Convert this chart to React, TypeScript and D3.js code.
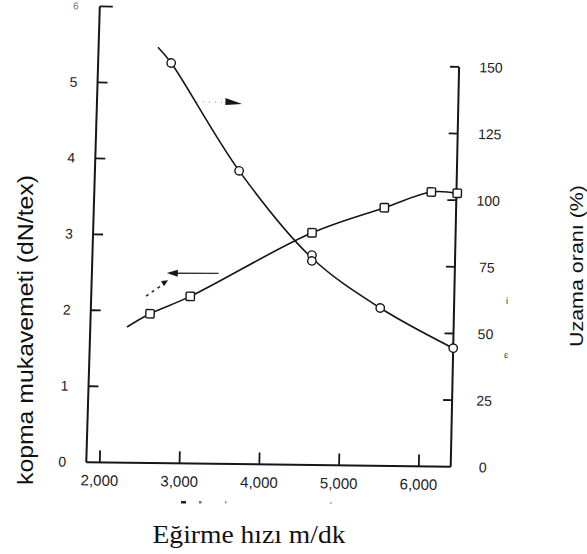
import React from "react";
import * as d3 from "d3";

// ---- data ----
const speedTicks = [2000, 3000, 4000, 5000, 6000];
const tenacityTicks = [0, 1, 2, 3, 4, 5, 6];
const elongationTicks = [0, 25, 50, 75, 100, 125, 150];

// tenacity (squares, left axis, dN/tex)
const tenacitySpeed = [2590, 3090, 4600, 5500, 6085, 6410];
const tenacityValues = [1.97, 2.21, 3.08, 3.43, 3.65, 3.64];
const tenacityCurveSpeed = [2305, 2590, 3090, 4600, 5500, 6085, 6410];
const tenacityCurveValues = [1.79, 1.97, 2.21, 3.08, 3.43, 3.65, 3.64];

// elongation (circles, right axis, %)
const elongationSpeed = [2790, 3670, 4605, 4605, 5475, 6400];
const elongationValues = [149.2, 109.3, 78.3, 76.1, 59.0, 44.5];
const elongationCurveSpeed = [2620, 2790, 3670, 4605, 5475, 6400];
const elongationCurveValues = [155, 149.2, 109.3, 77.2, 59.0, 44.5];

const W = 587;
const H = 554;

export default function App() {
  const x = d3.scaleLinear().domain([2000, 6000]).range([104, 423]);
  const yL = d3.scaleLinear().domain([0, 6]).range([466, 10]);
  const yR = d3.scaleLinear().domain([0, 150]).range([463, 63]);
  const xLeftAxis = d3.scaleLinear().domain([0, 6]).range([x(1830), x(1880)]);
  const xRight = x(6400);
  const yBase = d3.scaleLinear().domain([1830, 6400]).range([yL(0), yR(0)]);
  const fmt = d3.format(",");

  const ten = tenacityCurveSpeed.map((s, i) => [x(s), yL(tenacityCurveValues[i])] as [number, number]);
  const elo = elongationCurveSpeed.map((s, i) => [x(s), yR(elongationCurveValues[i])] as [number, number]);
  const line = d3.line().curve(d3.curveCatmullRom.alpha(0.5));

  const ink = "#161616";
  const sans = "'Liberation Sans', Arial, sans-serif";

  // annotation arrows (in data space)
  const arrTail = [x(3440), yL(2.52)];
  const arrTip = [x(2790), yL(2.51)];
  const dashA = [x(2535), yL(2.2)];
  const dashB = [x(2783), yL(2.39)];
  const dotA = [x(3124), yR(134.8)];
  const dotB = [x(3480), yR(134.8)];
  const triTip = x(3690);

  return (
    <svg width={W} height={H} style={{ position: "absolute", left: 0, top: 0, background: "#fff" }}>
      <rect width={W} height={H} fill="#fff" />
      <g transform="rotate(1.2 270 265)">
        {/* left axis */}
        <line x1={xLeftAxis(0)} y1={yL(0)} x2={xLeftAxis(6)} y2={yL(6)} stroke={ink} strokeWidth={2} />
        {tenacityTicks.map((t) => (
          <g key={"lt" + t}>
            {t > 0 && (
              <line x1={xLeftAxis(t)} x2={xLeftAxis(t) + (t === 6 ? 13 : 10)} y1={yL(t)} y2={yL(t)} stroke={ink} strokeWidth={1.8} />
            )}
            <text
              x={xLeftAxis(t) - 24}
              y={yL(t)}
              dy="0.35em"
              textAnchor="middle"
              fontFamily={sans}
              fontSize={t === 6 ? 10 : 14}
              fill={t === 6 ? "#777" : "#222"}
            >
              {t}
            </text>
          </g>
        ))}
        {/* right axis */}
        <line x1={xRight} y1={yR(0)} x2={xRight} y2={yR(150)} stroke={ink} strokeWidth={2} />
        {elongationTicks.map((t) => (
          <g key={"rt" + t}>
            {t > 0 && <line x1={xRight - 9} x2={xRight} y1={yR(t)} y2={yR(t)} stroke={ink} strokeWidth={1.8} />}
            <text x={xRight + 32} y={yR(t)} dy="0.35em" textAnchor="middle" fontFamily={sans} fontSize={14} fill="#222">
              {t}
            </text>
          </g>
        ))}
        {/* bottom axis */}
        <line x1={xLeftAxis(0)} y1={yBase(1830)} x2={xRight} y2={yBase(6400)} stroke={ink} strokeWidth={2} />
        {speedTicks.map((t) => (
          <g key={"bt" + t}>
            <line x1={x(t)} x2={x(t)} y1={yBase(t)} y2={yBase(t) - 12} stroke={ink} strokeWidth={1.8} />
            <text x={x(t)} y={yBase(t) + 18} dy="0.35em" textAnchor="middle" fontFamily={sans} fontSize={15} fill="#222">
              {fmt(t)}
            </text>
          </g>
        ))}

        {/* curves */}
        <path d={line(ten) || ""} fill="none" stroke={ink} strokeWidth={1.6} />
        <path d={line(elo) || ""} fill="none" stroke={ink} strokeWidth={1.6} />

        {/* markers */}
        {tenacitySpeed.map((s, i) => (
          <rect
            key={"sq" + i}
            x={x(s) - 4.2}
            y={yL(tenacityValues[i]) - 4.2}
            width={8.4}
            height={8.4}
            rx={1}
            fill="#fff"
            stroke={ink}
            strokeWidth={1.4}
          />
        ))}
        {elongationSpeed.map((s, i) => (
          <circle key={"c" + i} cx={x(s)} cy={yR(elongationValues[i])} r={4.2} fill="#fff" stroke={ink} strokeWidth={1.4} />
        ))}

        {/* annotation: arrow to left axis */}
        <line x1={arrTail[0]} y1={arrTail[1]} x2={arrTip[0] + 9} y2={arrTip[1]} stroke="#333" strokeWidth={1.3} />
        <path
          d={`M${arrTip[0]},${arrTip[1]} L${arrTip[0] + 11},${arrTip[1] - 3.5} L${arrTip[0] + 11},${arrTip[1] + 3.5} Z`}
          fill={ink}
        />
        {/* small dashed arrow */}
        <line x1={dashA[0]} y1={dashA[1]} x2={dashB[0]} y2={dashB[1]} stroke="#333" strokeWidth={1.6} strokeDasharray="3 4" />
        <path
          d={`M${dashB[0] + 2},${dashB[1] - 2} L${dashB[0] - 5},${dashB[1] - 1} L${dashB[0] - 2},${dashB[1] + 4} Z`}
          fill={ink}
        />
        {/* dotted arrow to right axis */}
        <line x1={dotA[0]} y1={dotA[1]} x2={dotB[0]} y2={dotB[1]} stroke="#999" strokeWidth={1} strokeDasharray="1 5" />
        <path d={`M${dotB[0]},${dotB[1] - 4.5} L${triTip},${dotB[1] + 1} L${dotB[0]},${dotB[1] + 2.5} Z`} fill={ink} />
      </g>

      {/* scan specks */}
      <text x={507} y={304} fontFamily={sans} fontSize={9} fill="#333" textAnchor="middle">i</text>
      <text x={506} y={358} fontFamily={sans} fontSize={9} fill="#333" textAnchor="middle">ɛ</text>
      <rect x={181} y={501} width={5} height={2.5} fill="#222" />
      <rect x={199} y={501} width={2.5} height={2.5} fill="#777" />
      <rect x={225} y={501} width={1.5} height={2.5} fill="#999" />
      <rect x={330} y={502} width={1.5} height={2} fill="#aaa" />

      {/* axis titles */}
      <text
        transform="translate(25,330) rotate(-90)"
        textAnchor="middle"
        dy="0.35em"
        fontFamily={sans}
        fontSize={22}
        textLength={310}
        lengthAdjust="spacingAndGlyphs"
        fill="#111"
      >
        kopma mukavemeti (dN/tex)
      </text>
      <text
        transform="translate(577,266) rotate(-90)"
        textAnchor="middle"
        dy="0.35em"
        fontFamily={sans}
        fontSize={18}
        textLength={162}
        lengthAdjust="spacingAndGlyphs"
        fill="#111"
      >
        Uzama oranı (%)
      </text>
      <text
        x={249}
        y={543}
        textAnchor="middle"
        fontFamily="'Liberation Serif', 'Times New Roman', serif"
        fontSize={26}
        textLength={193}
        lengthAdjust="spacingAndGlyphs"
        fill="#111"
      >
        Eğirme hızı m/dk
      </text>
    </svg>
  );
}
